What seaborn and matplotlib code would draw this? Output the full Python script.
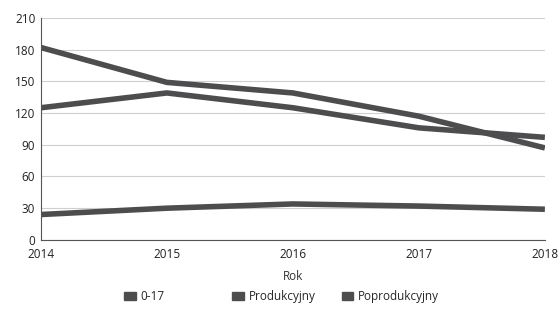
import matplotlib
matplotlib.use("Agg")
import matplotlib.pyplot as plt
import pandas as pd
import seaborn as sns

YEARS = [2014, 2015, 2016, 2017, 2018]
SERIES = ["0-17", "Produkcyjny", "Poprodukcyjny"]
VALUES_0_17 = [125, 139, 125, 106, 97]
VALUES_PRODUKCYJNY = [182, 149, 139, 117, 87]
VALUES_POPRODUKCYJNY = [24, 30, 34, 32, 29]
Y_TICKS = [0, 30, 60, 90, 120, 150, 180, 210]

LINE_COLOR = "#4d4d4f"
# left edge of each legend entry, as a fraction of the figure width
LEGEND_X = [0.222, 0.415, 0.61]


def build_frame() -> pd.DataFrame:
    rows = []
    for name, vals in zip(SERIES, [VALUES_0_17, VALUES_PRODUKCYJNY, VALUES_POPRODUKCYJNY]):
        for year, v in zip(YEARS, vals):
            rows.append({"Rok": year, "Wartość": v, "Grupa": name})
    return pd.DataFrame(rows)


def main() -> None:
    sns.set_theme(style="white")
    plt.rcParams["font.family"] = ["Open Sans", "DejaVu Sans"]

    df = build_frame()
    fig = plt.figure(figsize=(5.6, 3.14), dpi=100)
    ax = fig.add_axes([0.073, 0.236, 0.9, 0.707])

    sns.lineplot(
        data=df, x="Rok", y="Wartość", hue="Grupa", hue_order=SERIES,
        palette=[LINE_COLOR] * 3, linewidth=4.0, ax=ax, legend=False,
        solid_capstyle="butt",
    )

    ax.set_xlim(YEARS[0], YEARS[-1])
    ax.set_ylim(0, 210)
    ax.set_xticks(YEARS)
    ax.set_yticks(Y_TICKS)
    ax.tick_params(axis="both", labelsize=8.5, length=0, colors="#222222")
    ax.tick_params(axis="x", pad=6)
    ax.tick_params(axis="y", pad=4)
    ax.grid(axis="y", color="#cfcfcf", linewidth=0.8)
    ax.set_axisbelow(True)
    for side in ["top", "right"]:
        ax.spines[side].set_visible(False)
    for side in ["left", "bottom"]:
        ax.spines[side].set_color("#555555")
        ax.spines[side].set_linewidth(0.8)

    ax.set_xlabel("Rok", fontsize=8.5, color="#333333", labelpad=6)
    ax.set_ylabel("")

    for name, x in zip(SERIES, LEGEND_X):
        handle = plt.Rectangle((0, 0), 1, 1, color=LINE_COLOR)
        fig.legend(
            [handle], [name], loc="center left", bbox_to_anchor=(x, 0.055),
            frameon=False, fontsize=8.5, handlelength=1.0, handleheight=0.55,
            handletextpad=0.4, borderpad=0, borderaxespad=0,
        )

    fig.savefig("out.png", dpi=100)
    plt.close(fig)


if __name__ == "__main__":
    main()
